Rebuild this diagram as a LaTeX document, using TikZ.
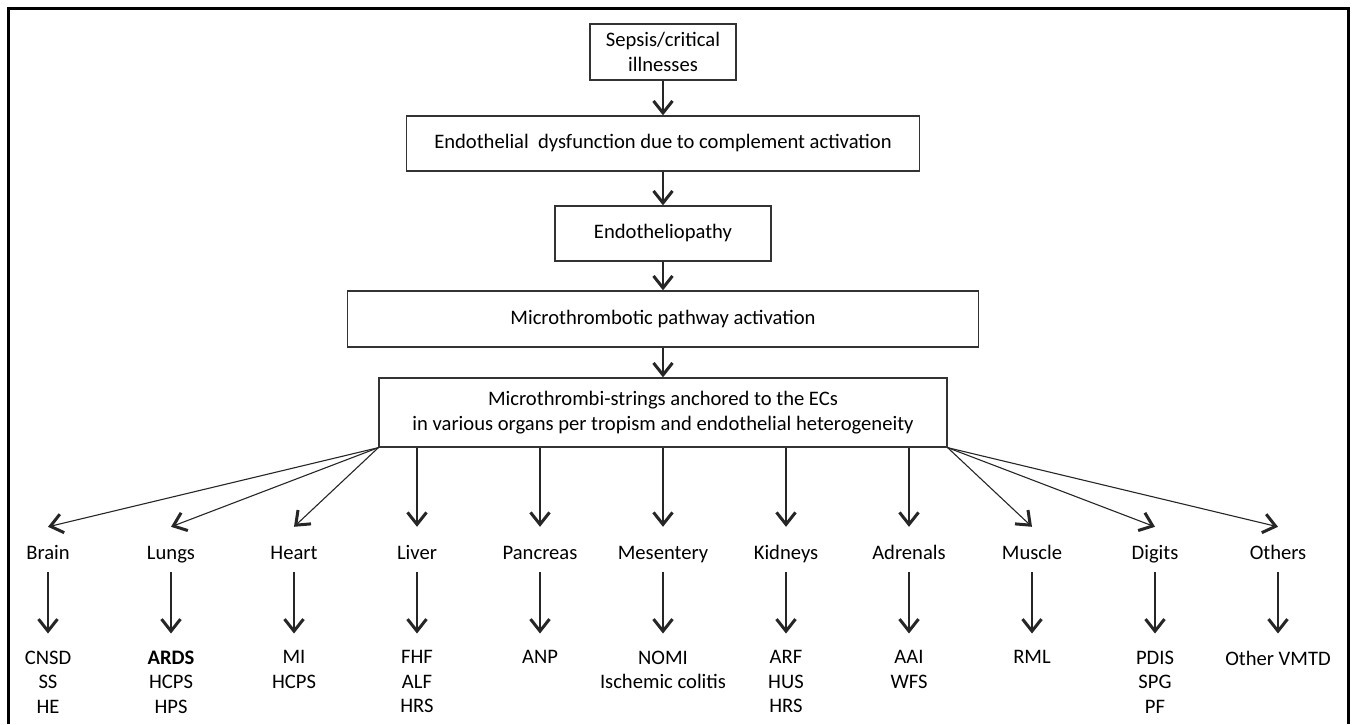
\documentclass[tikz,border=0pt]{standalone}
\usepackage{fontspec}
\setmainfont{Carlito}
\usetikzlibrary{arrows.meta}
\tikzset{
  box/.style={draw=black!80, line width=1.3pt, align=center, inner sep=0pt},
  flow/.style={draw=black!85, line width=1.1pt, -{Straight Barb[length=12pt,width=19pt,line width=3pt]}},
  organ/.style={inner sep=0pt, text height=32pt, text depth=13pt, anchor=base},
  disease/.style={inner sep=0pt, anchor=north, align=center},
}
\begin{document}
\begin{tikzpicture}[x=1pt,y=-1pt,font=\fontsize{20.6}{24.5}\selectfont]
    \useasboundingbox (0,0) rectangle (1355,724);
    \draw[line width=3pt] (8,724) -- (8,8) -- (1348,8) -- (1348,724);
    % main chain
    \node[box, minimum width=146pt, minimum height=56pt] (sepsis) at (663,52) {Sepsis/critical\\illnesses};
    \node[box, minimum width=513pt, minimum height=55pt] (endodys) at (663,143.5) {Endothelial\ \ dysfunction due to complement activation};
    \node[box, minimum width=216pt, minimum height=55pt] (endopathy) at (663,233.5) {Endotheliopathy};
    \node[box, minimum width=631pt, minimum height=56pt] (pathway) at (663,319) {Microthrombotic pathway activation};
    \node[box, minimum width=568pt, minimum height=69pt] (strings) at (663,412.5) {Microthrombi-strings anchored to the ECs\\in various organs per tropism and endothelial heterogeneity};
    \draw[flow] (sepsis) -- (endodys);
    \draw[flow] (endodys) -- (endopathy);
    \draw[flow] (endopathy) -- (pathway);
    \draw[flow] (pathway) -- (strings);
    % organs and their disorders
    \foreach \name/\organ/\dis [count=\i from 0] in {brain/Brain/{CNSD\\SS\\HE}, lungs/Lungs/{\textbf{ARDS}\\HCPS\\HPS}, heart/Heart/{MI\\HCPS}, liver/Liver/{FHF\\ALF\\HRS}, pancreas/Pancreas/{ANP}, mesentery/Mesentery/{NOMI\\Ischemic colitis}, kidneys/Kidneys/{ARF\\HUS\\HRS}, adrenals/Adrenals/{AAI\\WFS}, muscle/Muscle/{RML}, digits/Digits/{PDIS\\SPG\\PF}, others/Others/{Other VMTD}}{
    \node[organ] (\name) at (48+123*\i,559) {\organ};
    \node[disease] (d\name) at (48+123*\i,650.5) {\dis};
    \draw[flow, shorten >=17pt] (\name.south) -- (d\name.north);
    }
    \foreach \name in {brain,lungs,heart}
    \draw[flow] (strings.south west) -- (\name.north);
    \foreach \name in {liver,pancreas,mesentery,kidneys,adrenals}
    \draw[flow] (strings.south -| \name) -- (\name.north);
    \foreach \name in {muscle,digits,others}
    \draw[flow] (strings.south east) -- (\name.north);
\end{tikzpicture}
\end{document}
